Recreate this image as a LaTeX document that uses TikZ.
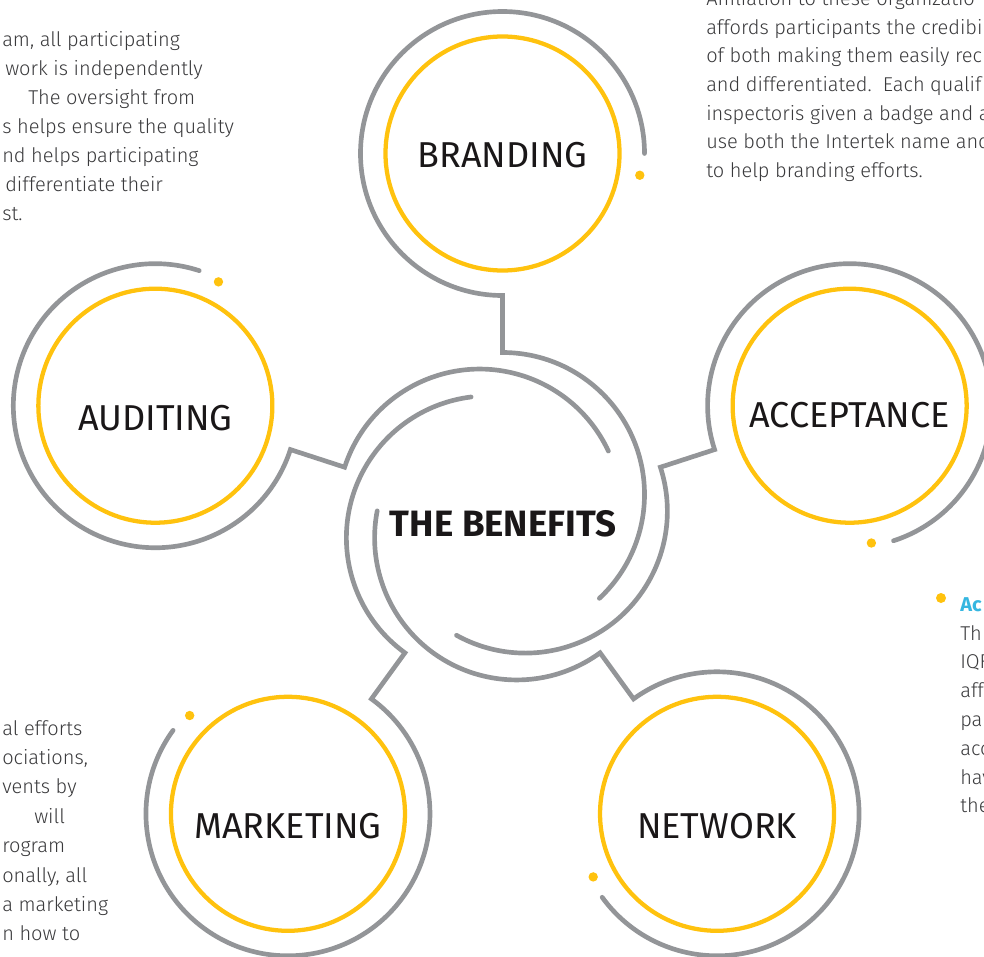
\documentclass[tikz,border=0pt]{standalone}
\usepackage{fontspec}
\setmainfont{Fira Sans}
\newfontfamily\bodyf{Fira Sans Light}
\usetikzlibrary{calc}
\definecolor{ggrey}{HTML}{939598}
\definecolor{gyel}{HTML}{FFC20E}
\definecolor{gtxt}{HTML}{1A1718}
\definecolor{btxt}{HTML}{3A3A3C}
\definecolor{gcyan}{HTML}{35B6E0}
\begin{document}
\begin{tikzpicture}[x=0.75pt,y=-0.75pt,
  ycirc/.style={circle,draw=gyel,line width=3.2pt,minimum size=175.5pt,inner sep=0pt},
  lab/.style={inner sep=0pt,font=\fontsize{27}{30}\selectfont,text=gtxt},
  garc/.style={draw=ggrey,line width=3.5pt,line cap=round,line join=miter},
  body/.style={anchor=base west,inner sep=0pt,font=\bodyf\fontsize{15}{20}\selectfont,text=btxt}
]
\useasboundingbox (0,0) rectangle (984,956);
\coordinate (O) at (502.5,518.5);

% centre title
\node[font=\bfseries\fontsize{27.5}{30}\selectfont,text=gtxt,inner sep=0pt] (ben) at (503,524) {THE BENEFITS};

% satellites, connectors and spiral arcs
\foreach \nm/\th/\lab/\dy in {aud/-162/AUDITING/12, brand/-90/BRANDING/2, acc/-18/ACCEPTANCE/9, net/54/NETWORK/12.5, mkt/126/MARKETING/12}{
  \node[ycirc] (\nm) at ($(O)+(\th:365)$) {};
  \node[lab] (\nm-t) at ($(\nm)+(0,\dy)$) {\lab};
  \pgfmathsetmacro\pc{\th+180}
  \pgfmathsetmacro\pe{\th+450}
  \pgfmathsetmacro\pd{\th+459}
  \pgfmathsetmacro\se{\th+137}
  \coordinate (\nm-end) at ($(\nm)+(\pe:142)$);
  \coordinate (\nm-c) at ($(\nm)+(\pc:142)$);
  \coordinate (\nm-j) at ($(O)+(\th:166)$);
  \draw[garc] (\nm-end) arc[start angle=\pe, end angle=\pc, radius=142] -- (\nm-j)
        arc[start angle=\th, end angle=\se, radius=142];
  \fill[gyel] ($(\nm)+(\pd:139)$) circle[radius=4.7];
}

% top-left text
\foreach \t/\xx/\yy [count=\i] in {{am, all participating}/2/47,
  {work is independently}/5/75.9,
  {The oversight from}/28/104.8,
  {s helps ensure the quality}/2/133.7,
  {nd helps participating}/2/162.6,
  {differentiate their}/5/191.5,
  {st.}/2/220.4}{
  \node[body] (tl\i) at (\xx,\yy) {\t};
}

% top-right text
\foreach \t/\yy [count=\i] in {{Affiliation to these organizatio}/6,
  {affords participants the credibi}/34.5,
  {of both making them easily rec}/63,
  {and differentiated.\ \ Each qualif}/91.5,
  {inspectoris given a badge and a}/120,
  {use both the Intertek name and}/148.5,
  {to help branding efforts.}/177}{
  \node[body] (tr\i) at (706,\yy) {\t};
}

% bottom-left text
\foreach \t/\xx/\yy [count=\i] in {{al efforts}/2/735,
  {ociations,}/2/764.4,
  {vents by}/2/793.8,
  {will}/34/823.2,
  {rogram}/2/852.6,
  {onally, all}/2/882,
  {a marketing}/2/911.4,
  {n how to}/2/940.8}{
  \node[body] (bl\i) at (\xx,\yy) {\t};
}

% right text
\fill[gyel] (941,598) circle[radius=5];
\node[body,font=\bfseries\fontsize{15}{20}\selectfont,text=gcyan] (r0) at (960,611) {Ac};
\foreach \t/\yy [count=\i] in {Th/640, IQF/668.8, aff/697.6, par/726.4, acc/755.2, hav/784, the/812.8}{
  \node[body] (r\i) at (960,\yy) {\t};
}
\end{tikzpicture}
\end{document}
